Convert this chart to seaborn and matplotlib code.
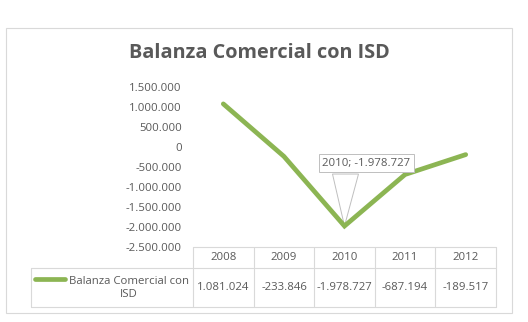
import matplotlib
matplotlib.use("Agg")
import matplotlib.pyplot as plt
import seaborn as sns
import pandas as pd
from matplotlib.patches import Rectangle, Polygon
from matplotlib.lines import Line2D
from matplotlib.transforms import IdentityTransform
from matplotlib.ticker import FixedLocator, FuncFormatter

# ---- data ----
years = ["2008", "2009", "2010", "2011", "2012"]
values = [1081024, -233846, -1978727, -687194, -189517]
series_name = "Balanza Comercial con ISD"
title = "Balanza Comercial con ISD"
y_ticks = [-2500000, -2000000, -1500000, -1000000, -500000, 0, 500000, 1000000, 1500000]
highlight_year = "2010"

def fmt(v):
    return f"{int(round(v)):,}".replace(",", ".")

sns.set_style("white")
plt.rcParams["font.family"] = ["Open Sans", "DejaVu Sans"]

W, H = 528, 322
fig = plt.figure(figsize=(W / 100, H / 100), dpi=100)
fig.patch.set_facecolor("white")

def fx(px):
    return px / W

def fy(py):
    return 1 - py / H

gray = "#595959"
border = "#D9D9D9"
green = "#8CB553"
fs = 8.2

# outer frame
fig.add_artist(Rectangle((fx(6), fy(313)), fx(506), 285 / H, transform=fig.transFigure,
                         fill=False, ec=border, lw=0.8))

# title
fig.text(fx(259), fy(53), title, ha="center", va="center", fontsize=14.3,
         fontweight="bold", color=gray)

# main axes
ax_left, ax_right, ax_top, ax_bot = 193, 496, 87, 247
ax = fig.add_axes([fx(ax_left), fy(ax_bot), (ax_right - ax_left) / W, (ax_bot - ax_top) / H])
df = pd.DataFrame({"year": years, "value": values})
df["x"] = range(len(years))
sns.lineplot(data=df, x="x", y="value", ax=ax, color=green, lw=3.4,
             solid_capstyle="round", solid_joinstyle="miter", zorder=3)
ax.set_xlim(-0.5, len(years) - 0.5)
span = max(y_ticks) - min(y_ticks)
ax.set_ylim(min(y_ticks) - span * 1e-3, max(y_ticks) + span * 1e-3)
ax.yaxis.set_major_locator(FixedLocator(y_ticks))
ax.yaxis.set_major_formatter(FuncFormatter(lambda v, p: fmt(v)))
ax.tick_params(axis="y", length=0, pad=8, labelsize=fs, labelcolor=gray)
ax.set_xticks([])
ax.set_xlabel("")
ax.set_ylabel("")
for s in ax.spines.values():
    s.set_visible(False)
ax.patch.set_alpha(0)

# data label callout
hi = years.index(highlight_year)
px, py = ax.transData.transform((hi, values[hi]))
wedge = Polygon([(px, py), (px - 12, py + 52), (px + 14, py + 52)], closed=True,
                transform=IdentityTransform(), fc="white", ec="#BFBFBF", lw=0.7, zorder=2)
ax.add_artist(wedge)
ax.annotate(f"{years[hi]}; {fmt(values[hi])}", xy=(hi, values[hi]),
            xytext=(22, 63), textcoords="offset pixels",
            ha="center", va="center", fontsize=fs, color=gray,
            bbox=dict(boxstyle="square,pad=0.3", fc="white", ec="#BFBFBF", lw=0.7),
            zorder=5)

# data table
cols = [193, 254, 314, 375, 435, 496]
r0, r1, r2 = 247, 268, 307
leg_left = 31
lc = border
lw = 0.8
def hline(y, x0, x1):
    fig.add_artist(Line2D([fx(x0), fx(x1)], [fy(y), fy(y)], transform=fig.transFigure, color=lc, lw=lw))
def vline(x, y0, y1):
    fig.add_artist(Line2D([fx(x), fx(x)], [fy(y0), fy(y1)], transform=fig.transFigure, color=lc, lw=lw))

hline(r0, cols[0], cols[-1])
hline(r1, leg_left, cols[-1])
hline(r2, leg_left, cols[-1])
for c in cols:
    vline(c, r0, r2)
vline(leg_left, r1, r2)

for i, (yr, v) in enumerate(zip(years, values)):
    cx = (cols[i] + cols[i + 1]) / 2
    fig.text(fx(cx), fy((r0 + r1) / 2), yr, ha="center", va="center", fontsize=fs, color=gray)
    fig.text(fx(cx), fy((r1 + r2) / 2), fmt(v), ha="center", va="center", fontsize=fs, color=gray)

# legend key in table
fig.add_artist(Line2D([fx(35), fx(65)], [fy(279), fy(279)], transform=fig.transFigure,
                      color=green, lw=3.4, solid_capstyle="round"))
fig.text(fx(129), fy(288), series_name.replace(" ISD", "\nISD"), ha="center", va="center",
         fontsize=fs, color=gray, linespacing=1.2)

fig.savefig("out.png", dpi=100, facecolor="white")
